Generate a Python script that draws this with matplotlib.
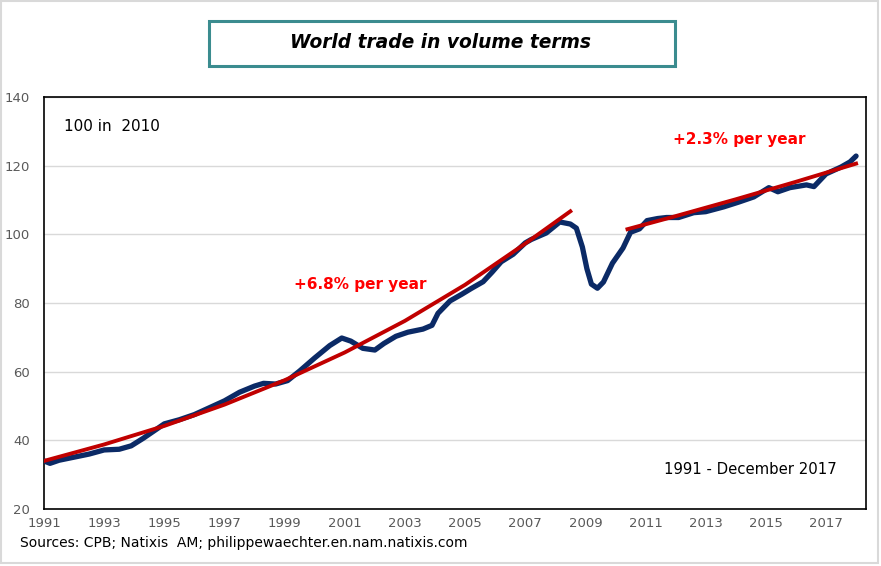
import matplotlib
matplotlib.use("Agg")
import matplotlib.pyplot as plt
from matplotlib.patches import Rectangle

# World trade volume index (2010 = 100)
years = [1991.0, 1991.2, 1991.5, 1992.0, 1992.5, 1993.0, 1993.5, 1993.9, 1994.3, 1994.7,
         1995.0, 1995.5, 1996.0, 1996.5, 1997.0, 1997.5, 1998.0, 1998.3, 1998.7, 1999.1,
         1999.5, 2000.0, 2000.5, 2000.9, 2001.2, 2001.6, 2002.0, 2002.3, 2002.7, 2003.1,
         2003.6, 2003.9, 2004.1, 2004.5, 2004.9, 2005.2, 2005.6, 2005.9, 2006.2, 2006.6,
         2007.0, 2007.2, 2007.7, 2008.15, 2008.5, 2008.7, 2008.9, 2009.05, 2009.2, 2009.4,
         2009.6, 2009.9, 2010.25, 2010.5, 2010.8, 2011.05, 2011.4, 2011.7, 2012.1, 2012.6,
         2013.0, 2013.6, 2014.1, 2014.6, 2015.1, 2015.4, 2015.8, 2016.35, 2016.6, 2017.0,
         2017.5, 2017.8, 2018.0]
trade = [34.0, 33.3, 34.2, 35.1, 36.0, 37.2, 37.4, 38.4, 40.6, 43.0,
         44.8, 46.0, 47.5, 49.5, 51.5, 54.0, 55.8, 56.6, 56.4, 57.4,
         60.2, 64.0, 67.6, 69.8, 68.9, 66.8, 66.3, 68.2, 70.3, 71.5,
         72.4, 73.5, 77.0, 80.6, 82.6, 84.2, 86.2, 89.0, 92.0, 94.2,
         97.5, 98.5, 100.4, 103.6, 103.0, 101.8, 96.3, 90.0, 85.5, 84.3,
         86.1, 91.6, 96.0, 100.6, 101.6, 104.0, 104.6, 104.9, 104.9, 106.3,
         106.6, 108.0, 109.4, 110.9, 113.6, 112.4, 113.6, 114.4, 113.9, 117.6,
         119.6, 121.1, 122.8]

# trend lines (+6.8% per year until 2008, +2.3% per year after 2010)
trend1_years = [1991.0, 1993.0, 1995.0, 1997.0, 1999.0, 2001.0, 2003.0, 2005.0, 2007.0, 2008.5]
trend1_vals = [34.0, 38.8, 44.2, 50.4, 57.5, 65.6, 74.8, 85.3, 97.3, 106.7]
trend2_years = [2010.4, 2012.0, 2014.0, 2016.0, 2018.0]
trend2_vals = [101.5, 105.3, 110.2, 115.3, 120.6]

xticks = list(range(1991, 2018, 2))
yticks = [20, 40, 60, 80, 100, 120, 140]

fig = plt.figure(figsize=(8.81, 5.66), dpi=100)
ax = fig.add_axes([44 / 881, 1 - 509 / 566, 822 / 881, 412 / 566])

ax.plot(years, trade, color="#0B2A66", lw=3.8, solid_capstyle="round",
        solid_joinstyle="round", zorder=3)
ax.plot(trend1_years, trend1_vals, color="#C00000", lw=2.8, zorder=4)
ax.plot(trend2_years, trend2_vals, color="#C00000", lw=2.8, zorder=4)

ax.set_xlim(1991, 2018.33)
ax.set_ylim(20, 140)
ax.set_xticks(xticks)
ax.set_yticks(yticks)
ax.tick_params(length=0, labelsize=9.5, colors="#595959")
ax.tick_params(axis="x", pad=6)
ax.tick_params(axis="y", pad=10)
for s in ax.spines.values():
    s.set_color("black")
    s.set_linewidth(1.2)
ax.grid(axis="y", color="#D9D9D9", lw=1)
ax.set_axisbelow(True)

ax.text(1991.65, 131.5, "100 in  2010", fontsize=11, color="black", va="center")
ax.text(2017.36, 31.5, "1991 - December 2017", fontsize=10.7, color="black", ha="right", va="center")
ax.text(1999.3, 85.5, "+6.8% per year", fontsize=11, color="#FF0000", fontweight="bold", va="center")
ax.text(2011.9, 127.5, "+2.3% per year", fontsize=11, color="#FF0000", fontweight="bold", va="center")

# title box
fig.patches.append(Rectangle((209 / 881, 1 - 66 / 566), 466 / 881, 45 / 566,
                             transform=fig.transFigure, facecolor="white",
                             edgecolor="#3B8C8F", lw=2.2))
fig.text(441 / 881, 1 - 43 / 566, "World trade in volume terms", ha="center", va="center",
         fontsize=13.4, fontweight="bold", fontstyle="italic")

fig.text(20 / 881, 1 - 543 / 566, "Sources: CPB; Natixis  AM; philippewaechter.en.nam.natixis.com",
         fontsize=10, color="black", va="center")

# outer frame
fig.patches.append(Rectangle((1 / 881, 3 / 566), 877 / 881, 562 / 566,
                             transform=fig.transFigure, fill=False,
                             edgecolor="#D9D9D9", lw=1.5))

fig.savefig("out.png", dpi=100)
